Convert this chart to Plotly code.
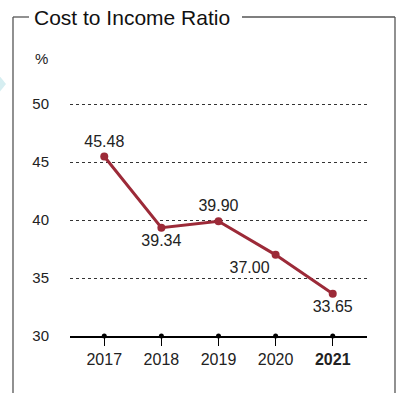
import plotly.graph_objects as go

years = ["2017", "2018", "2019", "2020", "2021"]
year_labels = ["2017", "2018", "2019", "2020", "<b>2021</b>"]
ratio = [45.48, 39.34, 39.90, 37.00, 33.65]
ratio_text = ["45.48", "39.34", "39.90", "37.00", "33.65"]
y_ticks = [30, 35, 40, 45, 50]
title = "Cost to Income Ratio"
unit = "%"

FONT = "Liberation Sans, Arial, Helvetica, sans-serif"
RED = "#9c2a38"
TXT = "#222222"

W, H = 398, 393
L, R, T, B = 70, 31, 103, 57
pw, ph = W - L - R, H - T - B

def px(x):
    return (x - L) / pw

def py(y):
    return (H - B - y) / ph

fig = go.Figure()

# axis dots and tick bars
fig.add_trace(go.Scatter(
    x=years, y=[y_ticks[0]] * len(years), mode="markers",
    marker=dict(color="black", size=5), cliponaxis=False,
    hoverinfo="skip", showlegend=False))
fig.add_trace(go.Scatter(
    x=years, y=[y_ticks[0] - 0.72] * len(years), mode="markers",
    marker=dict(symbol="line-ew", size=6, line=dict(color="black", width=1.5)),
    cliponaxis=False, hoverinfo="skip", showlegend=False))

fig.add_trace(go.Scatter(
    x=years, y=ratio, mode="lines+markers+text",
    line=dict(color=RED, width=3),
    marker=dict(color=RED, size=8),
    text=ratio_text,
    textposition=["top center", "bottom center", "top center", "bottom left", "bottom center"],
    textfont=dict(family=FONT, size=16, color=TXT),
    cliponaxis=False, showlegend=False))

fig.update_xaxes(
    type="category", range=[-0.6, 4.6],
    tickvals=years, ticktext=year_labels,
    ticks="outside", ticklen=8, tickcolor="black", tickwidth=1.3,
    showline=True, linecolor="black", linewidth=1.5,
    showgrid=False, zeroline=False,
    tickfont=dict(family=FONT, size=16, color=TXT))
fig.update_yaxes(
    range=[y_ticks[0], y_ticks[-1] + 0.1], tickvals=y_ticks,
    showgrid=True, gridcolor="#333333", griddash="dot", gridwidth=1,
    zeroline=False, showline=False, ticks="",
    ticklabelstandoff=20,
    tickfont=dict(family=FONT, size=15, color=TXT))

shapes = [
    # frame
    dict(type="line", xref="paper", yref="paper", x0=px(13), x1=px(13), y0=py(17), y1=py(400),
         line=dict(color="#555555", width=1.3)),
    dict(type="line", xref="paper", yref="paper", x0=px(13), x1=px(29), y0=py(17), y1=py(17),
         line=dict(color="#555555", width=1.3)),
    dict(type="line", xref="paper", yref="paper", x0=px(242), x1=px(395), y0=py(17), y1=py(17),
         line=dict(color="#555555", width=1.3)),
    dict(type="line", xref="paper", yref="paper", x0=px(395), x1=px(395), y0=py(17), y1=py(400),
         line=dict(color="#555555", width=1.3)),
    # light blue arrow hint
    dict(type="path", xref="paper", yref="paper",
         path=f"M {px(-2)} {py(74)} L {px(6)} {py(84)} L {px(-2)} {py(94)} Z",
         fillcolor="#d6eef1", line=dict(width=0)),
]

annotations = [
    dict(text=title, xref="paper", yref="paper", x=px(32), y=py(18),
         xanchor="left", yanchor="middle", showarrow=False,
         font=dict(family=FONT, size=21, color="#111111")),
    dict(text=unit, xref="paper", yref="paper", x=px(41), y=py(59),
         xanchor="center", yanchor="middle", showarrow=False,
         font=dict(family=FONT, size=15, color=TXT)),
]

fig.update_layout(
    width=W, height=H,
    margin=dict(l=L, r=R, t=T, b=B),
    paper_bgcolor="white", plot_bgcolor="white",
    shapes=shapes, annotations=annotations,
    showlegend=False,
)

fig.write_html("out.html", config={"displayModeBar": False},
               post_script="document.body.style.margin='0';document.body.style.padding='0';")
